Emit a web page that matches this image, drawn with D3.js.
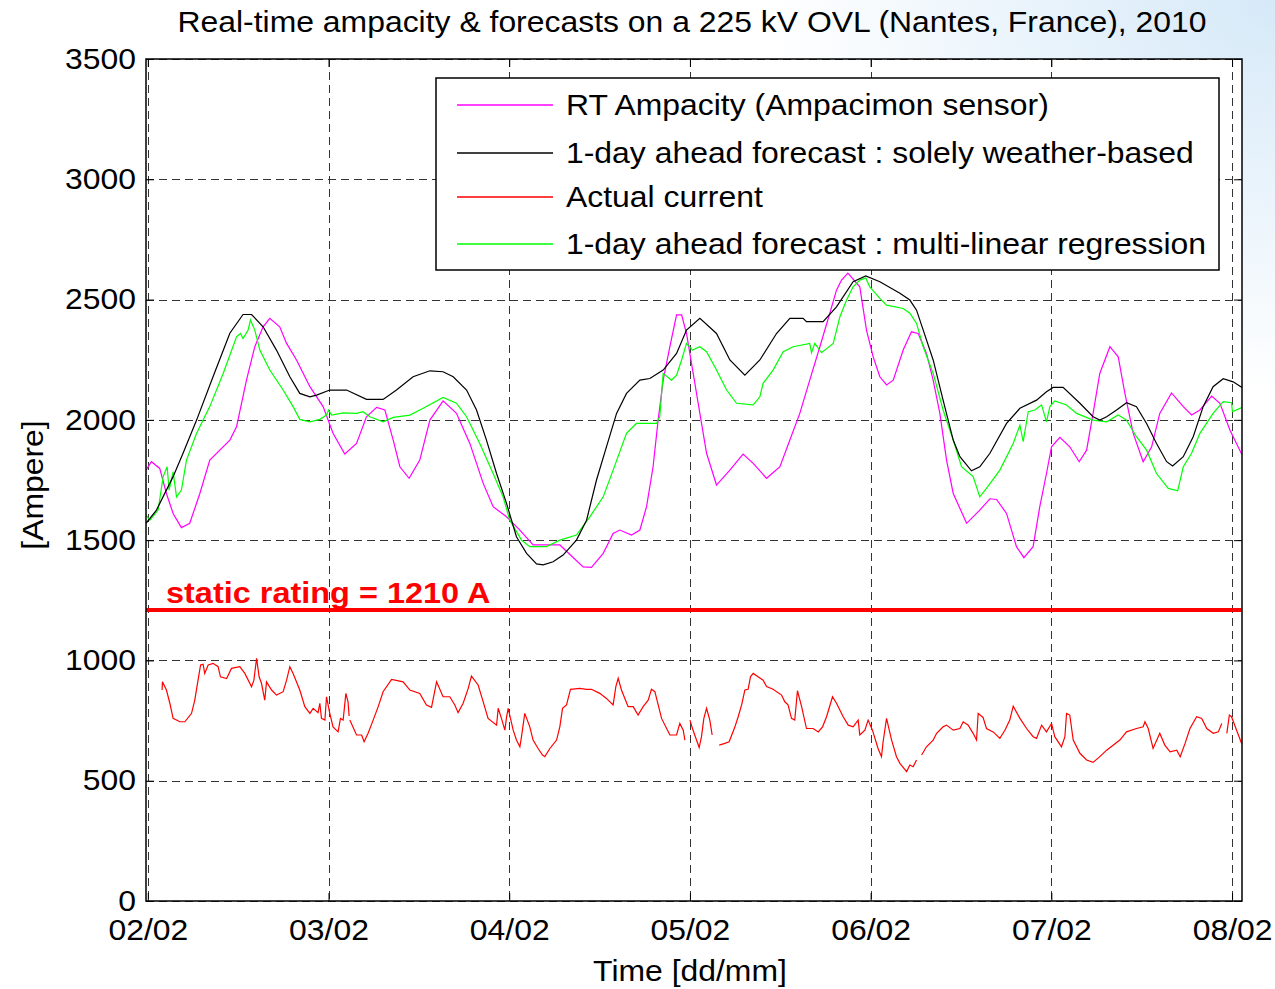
<!DOCTYPE html>
<html>
<head>
<meta charset="utf-8">
<script src="https://cdn.jsdelivr.net/npm/d3@7"></script>
<style>
  body { margin: 0; background: #fff; }
  svg text { font-family: "Liberation Sans", Arial, sans-serif; }
</style>
</head>
<body>
<svg id="chart" width="1275" height="989"></svg>
<script>
// ---- data (time in days after 02/02 00:00, values in Ampere) ----
var dayTicks = [0, 1, 2, 3, 4, 5, 6];
var dayLabels = ["02/02", "03/02", "04/02", "05/02", "06/02", "07/02", "08/02"];
var ampTicks = [0, 500, 1000, 1500, 2000, 2500, 3000, 3500];
var staticRating = 1210;

var seriesNames = [
  "RT Ampacity (Ampacimon sensor)",
  "1-day ahead forecast : solely weather-based",
  "Actual current",
  "1-day ahead forecast : multi-linear regression"
];

var rtAmpacity = [
  [-0.01,1791],[0.020,1826],[0.066,1798],[0.103,1694],[0.140,1611],[0.186,1552],[0.232,1570],
  [0.288,1694],[0.343,1833],[0.454,1916],[0.491,1971],[0.546,2165],[0.592,2304],[0.638,2387],
  [0.675,2422],[0.730,2387],[0.768,2318],[0.823,2249],[0.897,2138],[0.970,2055],[1.025,1944],
  [1.090,1858],[1.155,1902],[1.210,2013],[1.266,2052],[1.312,2041],[1.358,1916],[1.395,1805],
  [1.446,1757],[1.505,1833],[1.561,1999],[1.634,2079],[1.708,2027],[1.782,1902],[1.856,1736],
  [1.911,1639],[1.985,1597],[2.059,1542],[2.132,1480],[2.280,1480],[2.409,1389],[2.455,1387],
  [2.520,1445],[2.575,1528],[2.612,1542],[2.677,1521],[2.723,1542],[2.760,1639],[2.796,1805],
  [2.824,1999],[2.852,2165],[2.889,2304],[2.926,2436],[2.954,2436],[2.981,2359],[3.018,2193],
  [3.055,2027],[3.092,1861],[3.147,1729],[3.221,1791],[3.294,1858],[3.350,1819],[3.424,1757],
  [3.498,1805],[3.553,1916],[3.608,2027],[3.663,2165],[3.719,2304],[3.774,2443],[3.811,2539],
  [3.839,2581],[3.874,2610],[3.940,2553],[3.977,2373],[4.014,2262],[4.051,2179],[4.088,2145],
  [4.125,2165],[4.180,2290],[4.226,2366],[4.263,2359],[4.309,2276],[4.346,2165],[4.383,2027],
  [4.420,1833],[4.457,1694],[4.531,1570],[4.604,1625],[4.660,1672],[4.697,1669],[4.752,1611],
  [4.807,1473],[4.848,1427],[4.899,1473],[4.936,1639],[4.973,1777],[5.001,1888],[5.047,1927],
  [5.102,1888],[5.154,1826],[5.195,1874],[5.231,2027],[5.268,2193],[5.324,2304],[5.370,2262],
  [5.407,2110],[5.453,1944],[5.508,1826],[5.555,1888],[5.600,2027],[5.665,2112],[5.730,2055],
  [5.776,2020],[5.822,2041],[5.887,2099],[5.933,2069],[5.988,1958],[6.053,1858]
];

var forecastWeather = [
  [-0.01,1570],[0.048,1625],[0.140,1764],[0.195,1861],[0.270,1999],[0.361,2179],[0.454,2360],
  [0.527,2438],[0.574,2438],[0.638,2387],[0.712,2290],[0.786,2179],[0.841,2110],[0.897,2096],
  [0.934,2103],[1.007,2124],[1.100,2124],[1.210,2085],[1.302,2085],[1.376,2124],[1.468,2179],
  [1.561,2204],[1.634,2200],[1.690,2179],[1.764,2124],[1.819,2041],[1.874,1916],[1.930,1777],
  [1.985,1653],[2.040,1514],[2.096,1445],[2.151,1401],[2.188,1397],[2.243,1410],[2.298,1438],
  [2.372,1500],[2.428,1583],[2.483,1750],[2.538,1888],[2.594,2027],[2.649,2110],[2.723,2165],
  [2.778,2172],[2.852,2207],[2.926,2276],[2.981,2373],[3.055,2422],[3.147,2359],[3.221,2249],
  [3.304,2186],[3.387,2249],[3.479,2359],[3.553,2422],[3.626,2422],[3.645,2408],[3.737,2408],
  [3.811,2470],[3.903,2574],[3.973,2598],[4.051,2574],[4.162,2526],[4.217,2498],[4.254,2456],
  [4.291,2373],[4.346,2249],[4.401,2082],[4.457,1916],[4.494,1847],[4.558,1788],[4.604,1805],
  [4.660,1861],[4.752,1985],[4.826,2048],[4.918,2082],[4.973,2117],[5.010,2135],[5.065,2135],
  [5.158,2069],[5.231,2013],[5.268,1999],[5.306,2013],[5.361,2041],[5.416,2071],[5.471,2055],
  [5.527,1985],[5.582,1902],[5.638,1826],[5.671,1808],[5.730,1847],[5.785,1930],[5.840,2055],
  [5.895,2138],[5.951,2171],[6.006,2158],[6.055,2135]
];

var forecastMLR = [
  [-0.01,1604],[0.011,1583],[0.057,1625],[0.085,1764],[0.107,1805],[0.118,1708],[0.140,1784],
  [0.159,1680],[0.186,1708],[0.214,1833],[0.270,1944],[0.343,2055],[0.417,2193],[0.491,2345],
  [0.513,2359],[0.527,2338],[0.555,2373],[0.568,2415],[0.592,2373],[0.620,2290],[0.675,2207],
  [0.749,2124],[0.804,2055],[0.841,2002],[0.897,1992],[0.952,2002],[0.989,2020],[1.000,2041],
  [1.017,2020],[1.081,2029],[1.155,2027],[1.191,2034],[1.229,2013],[1.302,1992],[1.358,2010],
  [1.450,2020],[1.524,2048],[1.634,2093],[1.708,2069],[1.764,2013],[1.837,1902],[1.911,1777],
  [1.966,1680],[2.003,1583],[2.068,1500],[2.114,1473],[2.206,1473],[2.280,1500],[2.372,1521],
  [2.446,1597],[2.520,1680],[2.575,1791],[2.649,1944],[2.704,1985],[2.815,1985],[2.833,2013],
  [2.852,2193],[2.898,2165],[2.926,2186],[2.954,2249],[2.981,2318],[3.014,2290],[3.055,2304],
  [3.092,2283],[3.147,2207],[3.203,2124],[3.258,2069],[3.350,2062],[3.387,2096],[3.405,2152],
  [3.460,2207],[3.516,2283],[3.571,2304],[3.663,2318],[3.673,2279],[3.691,2318],[3.728,2279],
  [3.793,2318],[3.830,2429],[3.867,2498],[3.903,2553],[3.940,2581],[3.973,2590],[3.995,2553],
  [4.051,2505],[4.088,2477],[4.180,2463],[4.217,2443],[4.254,2401],[4.291,2304],[4.346,2193],
  [4.401,2041],[4.457,1916],[4.503,1805],[4.567,1764],[4.604,1680],[4.641,1715],[4.715,1791],
  [4.789,1902],[4.826,1978],[4.844,1909],[4.872,2034],[4.909,2041],[4.946,2062],[4.973,1992],
  [4.992,2055],[5.019,2079],[5.084,2062],[5.140,2027],[5.231,1999],[5.306,1992],[5.370,2020],
  [5.416,1999],[5.471,1930],[5.527,1874],[5.582,1777],[5.647,1715],[5.699,1705],[5.730,1805],
  [5.776,1861],[5.822,1944],[5.895,2027],[5.951,2076],[5.997,2071],[6.002,2034],[6.053,2051]
];

// null = gap in the measurement
var actualCurrent = [
  [0.079,877],[0.081,911],[0.103,877],[0.122,822],[0.140,759],[0.177,745],[0.205,745],[0.242,780],
  [0.260,835],[0.278,918],[0.292,981],[0.306,984],[0.315,946],[0.334,981],[0.361,988],[0.389,974],
  [0.402,932],[0.436,925],[0.463,967],[0.509,974],[0.537,946],[0.574,891],[0.587,918],[0.602,1009],
  [0.616,932],[0.629,905],[0.647,835],[0.657,911],[0.685,877],[0.712,856],[0.749,870],[0.768,918],
  [0.786,974],[0.804,946],[0.841,877],[0.869,808],[0.897,780],[0.915,801],[0.942,783],[0.952,822],
  [0.961,759],[0.980,752],[0.989,849],[1.007,780],[1.025,724],[1.053,703],[1.066,759],[1.081,752],
  [1.096,863],[1.108,828],[1.114,769],[1.116,null],
  [1.118,752],[1.155,690],[1.183,690],[1.197,662],[1.219,697],[1.247,752],[1.275,808],[1.302,870],
  [1.349,921],[1.413,911],[1.450,877],[1.505,863],[1.542,815],[1.570,805],[1.598,911],[1.634,849],
  [1.671,849],[1.699,815],[1.717,783],[1.745,822],[1.773,884],[1.791,935],[1.828,898],[1.856,828],
  [1.883,759],[1.930,731],[1.939,801],[1.957,759],[1.976,710],[1.985,763],[1.994,801],[2.022,710],
  [2.040,669],[2.059,641],[2.068,683],[2.086,780],[2.114,724],[2.132,669],[2.160,634],[2.184,607],
  [2.197,600],[2.225,634],[2.262,669],[2.280,724],[2.295,801],[2.317,815],[2.339,880],[2.391,884],
  [2.428,880],[2.455,880],[2.501,863],[2.538,842],[2.575,815],[2.590,891],[2.603,926],[2.621,877],
  [2.658,808],[2.686,808],[2.713,773],[2.741,808],[2.769,835],[2.787,880],[2.806,870],[2.843,759],
  [2.889,690],[2.926,690],[2.944,738],[2.963,710],[2.972,669],[2.986,null],
  [3.000,752],[3.014,717],[3.051,638],[3.064,683],[3.077,759],[3.092,801],[3.110,752],[3.123,690],
  [3.140,null],
  [3.162,648],[3.193,655],[3.217,662],[3.249,724],[3.267,766],[3.286,815],[3.304,877],[3.322,880],
  [3.335,932],[3.350,946],[3.377,932],[3.405,918],[3.424,891],[3.460,880],[3.507,856],[3.525,828],
  [3.543,815],[3.562,759],[3.580,752],[3.595,874],[3.618,808],[3.645,717],[3.682,717],[3.710,703],
  [3.734,724],[3.756,766],[3.789,849],[3.811,822],[3.848,766],[3.876,731],[3.903,724],[3.931,752],
  [3.940,690],[3.968,710],[3.986,752],[4.010,710],[4.041,634],[4.060,600],[4.069,662],[4.088,759],
  [4.116,669],[4.143,600],[4.162,572],[4.199,538],[4.217,565],[4.235,558],[4.254,586],[4.268,null],
  [4.282,607],[4.309,641],[4.346,669],[4.365,697],[4.401,724],[4.420,731],[4.457,710],[4.494,717],
  [4.512,745],[4.540,731],[4.567,697],[4.586,669],[4.595,780],[4.622,763],[4.641,717],[4.678,703],
  [4.715,676],[4.743,710],[4.770,752],[4.789,810],[4.826,759],[4.863,717],[4.899,683],[4.918,676],
  [4.946,731],[4.973,703],[5.001,738],[5.019,683],[5.056,641],[5.075,683],[5.084,780],[5.102,773],
  [5.121,669],[5.158,614],[5.195,586],[5.231,576],[5.268,600],[5.306,627],[5.379,669],[5.416,703],
  [5.471,717],[5.508,724],[5.518,745],[5.536,717],[5.563,634],[5.600,697],[5.628,648],[5.657,620],
  [5.694,627],[5.713,600],[5.740,655],[5.767,717],[5.804,766],[5.832,759],[5.860,717],[5.896,697],
  [5.924,703],[5.943,738],[5.957,null],
  [5.971,697],[5.985,773],[5.997,766],[6.025,710],[6.053,655]
];

var seriesColors = ["#ff00ff", "#000000", "#ff0000", "#00ff00"];

// ---- layout ----
var svg = d3.select("#chart");
var pLeft = 146, pRight = 1242, pTop = 59, pBottom = 901;
var font = "'Liberation Sans', Arial, sans-serif";
var stretch = 1.1; // reference text is a bit wider than Liberation Sans

var x = d3.scaleLinear().domain([-0.01, 6.055]).range([pLeft, pRight]);
var y = d3.scaleLinear().domain([0, 3500]).range([pBottom, pTop]);

// background: white with a pale blue glow in the top-right corner
var defs = svg.append("defs");
var bg = defs.append("radialGradient").attr("id", "bg")
  .attr("cx", "100%").attr("cy", "0%").attr("r", "40%");
bg.append("stop").attr("offset", "0%").attr("stop-color", "#d6e9f8");
bg.append("stop").attr("offset", "100%").attr("stop-color", "#ffffff");
svg.append("rect").attr("width", 1275).attr("height", 989).attr("fill", "url(#bg)");

defs.append("clipPath").attr("id", "plotclip")
  .append("rect").attr("x", pLeft).attr("y", pTop)
  .attr("width", pRight - pLeft).attr("height", pBottom - pTop);

svg.append("rect")
  .attr("x", pLeft).attr("y", pTop)
  .attr("width", pRight - pLeft).attr("height", pBottom - pTop)
  .attr("fill", "#fff");

// grid
var grid = svg.append("g").attr("class", "grid");
grid.selectAll("line.gx").data(dayTicks).enter().append("line")
  .attr("x1", d => Math.round(x(d)) + 0.5).attr("x2", d => Math.round(x(d)) + 0.5)
  .attr("y1", pTop).attr("y2", pBottom)
  .attr("stroke", "#333").attr("stroke-dasharray", "8,5");
grid.selectAll("line.gy").data(ampTicks).enter().append("line")
  .attr("x1", pLeft).attr("x2", pRight)
  .attr("y1", d => Math.round(y(d)) + 0.5).attr("y2", d => Math.round(y(d)) + 0.5)
  .attr("stroke", "#333").attr("stroke-dasharray", "8,5");

// static rating
svg.append("line")
  .attr("x1", pLeft).attr("x2", pRight)
  .attr("y1", y(staticRating)).attr("y2", y(staticRating))
  .attr("stroke", "#ff0000").attr("stroke-width", 4);

svg.append("text")
  .attr("x", 166).attr("y", y(staticRating) - 7)
  .style("font-size", "29.5px").style("font-weight", "bold")
  .style("fill", "#ff0000")
  .text("static rating = " + staticRating + " A");

// series
var line = d3.line()
  .defined(d => d[1] != null)
  .x(d => x(d[0]))
  .y(d => y(d[1]));

var plot = svg.append("g").attr("clip-path", "url(#plotclip)");
var drawOrder = [[actualCurrent, 2], [rtAmpacity, 0], [forecastMLR, 3], [forecastWeather, 1]];
drawOrder.forEach(function(s) {
  plot.append("path")
    .datum(s[0])
    .attr("d", line)
    .attr("fill", "none")
    .attr("stroke", seriesColors[s[1]])
    .attr("stroke-width", 1.2);
});

// axes (MATLAB style: ticks inward, on all sides)
var xAxis = d3.axisBottom(x).tickValues(dayTicks)
  .tickFormat((d, i) => dayLabels[i]).tickSizeInner(-8).tickSizeOuter(0).tickPadding(18);
var gx = svg.append("g").attr("transform", "translate(0," + pBottom + ")").call(xAxis);
gx.select(".domain").remove();
gx.selectAll("text").style("font-size", "29px").style("font-family", font).attr("fill", "#000");

var gxTop = svg.append("g").attr("transform", "translate(0," + pTop + ")")
  .call(d3.axisTop(x).tickValues(dayTicks).tickFormat("").tickSizeInner(-8).tickSizeOuter(0));
gxTop.select(".domain").remove();

var yAxis = d3.axisLeft(y).tickValues(ampTicks).tickFormat(d3.format("d"))
  .tickSizeInner(-8).tickSizeOuter(0).tickPadding(10);
var gy = svg.append("g").attr("transform", "translate(" + pLeft + ",0)").call(yAxis);
gy.select(".domain").remove();
gy.selectAll("text").style("font-size", "29px").style("font-family", font).attr("fill", "#000");

var gyRight = svg.append("g").attr("transform", "translate(" + pRight + ",0)")
  .call(d3.axisRight(y).tickValues(ampTicks).tickFormat("").tickSizeInner(-8).tickSizeOuter(0));
gyRight.select(".domain").remove();

svg.selectAll(".tick line").attr("stroke", "#000");

// frame
svg.append("rect")
  .attr("x", pLeft).attr("y", pTop)
  .attr("width", pRight - pLeft).attr("height", pBottom - pTop)
  .attr("fill", "none").attr("stroke", "#000").attr("stroke-width", 1.5);

// titles
svg.append("text")
  .attr("x", 692).attr("y", 32)
  .attr("text-anchor", "middle")
  .style("font-size", "29px")
  .text("Real-time ampacity & forecasts on a 225 kV OVL (Nantes, France), 2010");

svg.append("text")
  .attr("x", 690).attr("y", 981)
  .attr("text-anchor", "middle")
  .style("font-size", "29px")
  .text("Time [dd/mm]");

svg.append("text")
  .attr("transform", "translate(43,485) rotate(-90)")
  .attr("text-anchor", "middle")
  .style("font-size", "29px")
  .text("[Ampere]");

// legend
var legend = svg.append("g");
legend.append("rect")
  .attr("x", 436).attr("y", 78).attr("width", 783).attr("height", 192)
  .attr("fill", "#fff").attr("stroke", "#000").attr("stroke-width", 1.5);
var legendRows = [105, 153, 197, 244];
seriesNames.forEach(function(name, i) {
  legend.append("line")
    .attr("x1", 457).attr("x2", 553)
    .attr("y1", legendRows[i]).attr("y2", legendRows[i])
    .attr("stroke", seriesColors[i]).attr("stroke-width", 1.6);
  legend.append("text")
    .attr("x", 566).attr("y", legendRows[i] + 10)
    .style("font-size", "29px")
    .text(name);
});

// widen every text a little to match the reference's letter widths
svg.selectAll("text").each(function() {
  var w = this.getComputedTextLength();
  if (w > 0) {
    d3.select(this).attr("textLength", w * stretch).attr("lengthAdjust", "spacingAndGlyphs");
  }
});
</script>
</body>
</html>
